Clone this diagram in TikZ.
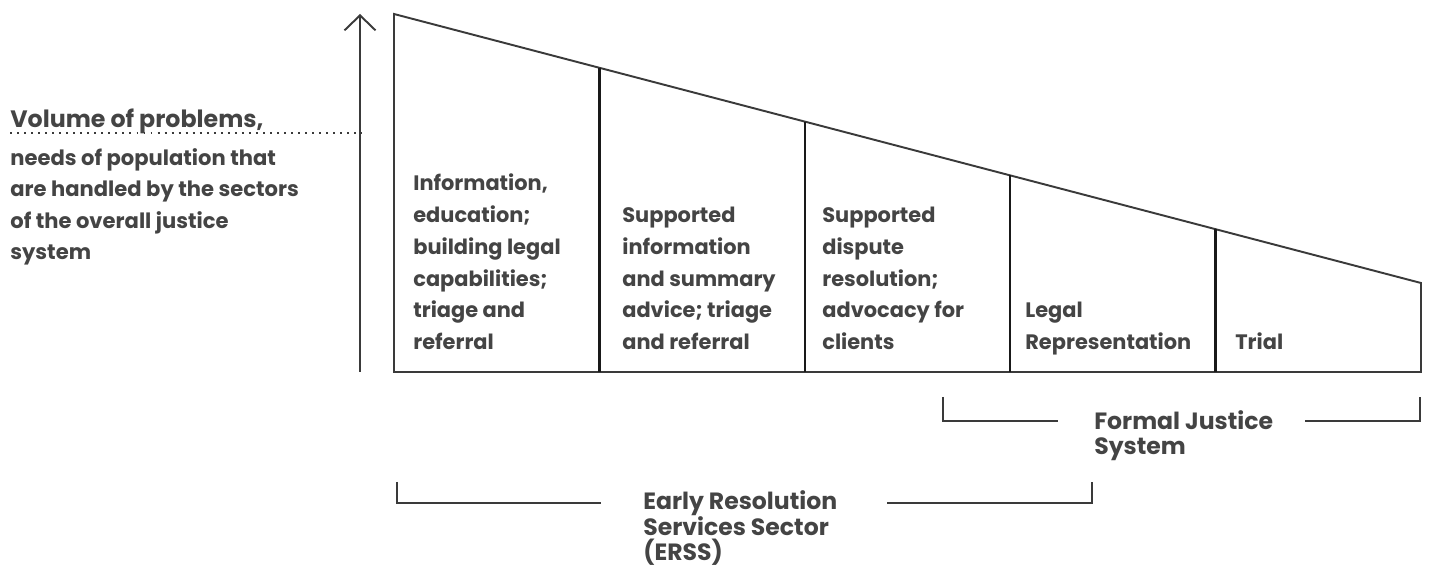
\documentclass[tikz,border=0pt]{standalone}
\usepackage{fontspec}
\setmainfont{Poppins}
\usetikzlibrary{arrows.meta, positioning, calc}
\definecolor{textgray}{RGB}{68,68,68}
\definecolor{linegray}{RGB}{58,58,58}

\begin{document}
\begin{tikzpicture}[
    x=0.02cm, y=-0.02cm,
    celltext/.style={anchor=south west, inner sep=0pt, align=left, text depth=0pt, text=textgray, font=\bfseries\fontsize{11.9}{18.1}\selectfont},
    sidetext/.style={anchor=south west, inner sep=0pt, align=left, text depth=0pt, text=textgray, font=\bfseries\fontsize{12}{17.9}\selectfont},
    headtext/.style={anchor=base west, inner sep=0pt, text=textgray, font=\bfseries\fontsize{13.5}{15}\selectfont},
    bracketlabel/.style={anchor=south west, inner sep=0pt, align=left, text depth=0pt, text=textgray, font=\bfseries\fontsize{13.4}{14.5}\selectfont},
    outline/.style={linegray, line width=1.1pt, line join=miter},
    divider/.style={black!90, line width=1.3pt},
    bracket/.style={linegray, line width=1.1pt},
    axisarrow/.style={-{Straight Barb[length=0.3cm, width=0.62cm]}, linegray, line width=1.1pt}
]
    \useasboundingbox (0,0) rectangle (1431,567);

    % Volume axis
    \coordinate (abot) at (360,372);
    \coordinate (atop) at (360,14);
    \draw[axisarrow] (abot) -- (atop);

    % Wedge of sectors
    \coordinate (tl) at (394,14);
    \coordinate (tr) at (1421,283);
    \coordinate (br) at (1421,372);
    \coordinate (bl) at (394,372);
    \draw[outline] (tl) -- (tr) -- (br) -- (bl) -- cycle;
    \foreach \t in {0.2,0.4,0.6,0.8}
        \draw[divider] ($(tl)!\t!(tr)$) -- ($(bl)!\t!(br)$);

    % Cell texts
    \node[celltext] (info) at (413,350) {Information,\\education;\\building legal\\capabilities;\\triage and\\referral};
    \node[celltext] (suppinfo) at (622,350) {Supported\\information\\and summary\\advice; triage\\and referral};
    \node[celltext] (suppdisp) at (822,350) {Supported\\dispute\\resolution;\\advocacy for\\clients};
    \node[celltext] (legal) at (1025,350) {Legal\\Representation};
    \node[celltext] (trial) at (1235,350) {Trial};

    % Axis label
    \node[headtext] (volume) at (10,128) {Volume of problems,};
    \coordinate (dotl) at (10,133);
    \coordinate (dotr) at (362,133);
    \draw[linegray, line width=1.1pt, dash pattern=on 1.1pt off 2.9pt] (dotl) -- (dotr);
    \node[sidetext] (needs) at (10,260) {needs of population that\\are handled by the sectors\\of the overall justice\\system};

    % Formal justice bracket
    \node[bracketlabel] (fjs) at (1094,455) {Formal Justice\\System};
    \coordinate (fjsa) at (943,397);
    \coordinate (fjsb) at (1058,421);
    \coordinate (fjsc) at (1305,421);
    \coordinate (fjsd) at (1420,397);
    \draw[bracket] (fjsa) |- (fjsb);
    \draw[bracket] (fjsc) -| (fjsd);

    % ERSS bracket
    \node[bracketlabel] (erss) at (643,561) {Early Resolution\\Services Sector\\(ERSS)};
    \coordinate (erssa) at (397,482);
    \coordinate (erssb) at (601,503);
    \coordinate (erssc) at (887,503);
    \coordinate (erssd) at (1092,482);
    \draw[bracket] (erssa) |- (erssb);
    \draw[bracket] (erssc) -| (erssd);
\end{tikzpicture}
\end{document}
